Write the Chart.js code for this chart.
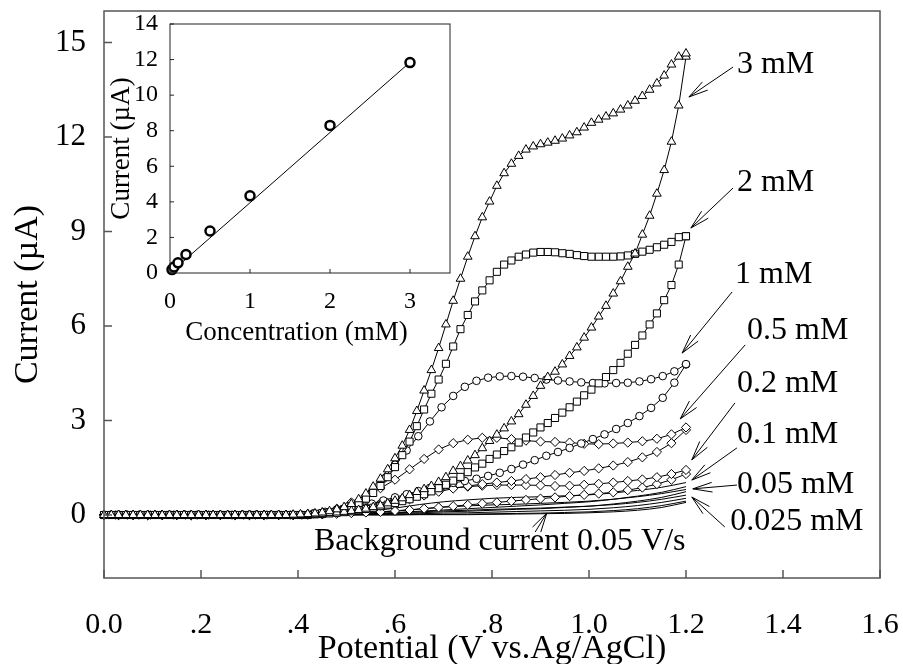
<!DOCTYPE html>
<html>
<head>
<meta charset="utf-8">
<script src="https://cdn.jsdelivr.net/npm/chart.js@4.4.1/dist/chart.umd.min.js"></script>
<style>
  html, body { margin: 0; padding: 0; background: #fff; }
  #wrap { position: relative; width: 903px; height: 664px; }
  #main { position: absolute; left: 0; top: 0; }
  #inset { position: absolute; left: 90px; top: 5px; }
</style>
</head>
<body>
<div id="wrap">
  <canvas id="main" width="903" height="664"></canvas>
  <canvas id="inset" width="380" height="345"></canvas>
</div>
<script>
const SERIF = '"Liberation Serif", "Times New Roman", serif';

// potentials (V) at which each group of curves is sampled
const potFine = [0, 0.015, 0.03, 0.045, 0.06, 0.075, 0.09, 0.105, 0.12, 0.135,
  0.15, 0.165, 0.18, 0.195, 0.21, 0.225, 0.24, 0.255, 0.27, 0.285,
  0.3, 0.315, 0.33, 0.345, 0.36, 0.375, 0.39, 0.405, 0.42, 0.435,
  0.45, 0.465, 0.48, 0.495, 0.51, 0.525, 0.54, 0.555, 0.57, 0.585,
  0.6, 0.615, 0.63, 0.645, 0.66, 0.675, 0.69, 0.705, 0.72, 0.735,
  0.75, 0.765, 0.78, 0.795, 0.81, 0.825, 0.84, 0.855, 0.87, 0.885,
  0.9, 0.915, 0.93, 0.945, 0.96, 0.975, 0.99, 1.005, 1.02, 1.035,
  1.05, 1.065, 1.08, 1.095, 1.11, 1.125, 1.14, 1.155, 1.17, 1.185,
  1.2];
const potCircle = [0, 0.024, 0.048, 0.072, 0.096, 0.12, 0.144, 0.168, 0.192, 0.216,
  0.24, 0.264, 0.288, 0.312, 0.336, 0.36, 0.384, 0.408, 0.432, 0.456,
  0.48, 0.504, 0.528, 0.552, 0.576, 0.6, 0.624, 0.648, 0.672, 0.696,
  0.72, 0.744, 0.768, 0.792, 0.816, 0.84, 0.864, 0.888, 0.912, 0.936,
  0.96, 0.984, 1.008, 1.032, 1.056, 1.08, 1.104, 1.128, 1.152, 1.176,
  1.2];
const potDiamond = [0, 0.03, 0.06, 0.09, 0.12, 0.15, 0.18, 0.21, 0.24, 0.27,
  0.3, 0.33, 0.36, 0.39, 0.42, 0.45, 0.48, 0.51, 0.54, 0.57,
  0.6, 0.63, 0.66, 0.69, 0.72, 0.75, 0.78, 0.81, 0.84, 0.87,
  0.9, 0.93, 0.96, 0.99, 1.02, 1.05, 1.08, 1.11, 1.14, 1.17,
  1.2];
const potLine = [0, 0.1, 0.2, 0.3, 0.4, 0.45, 0.5, 0.55, 0.6, 0.65, 0.7,
  0.75, 0.8, 0.85, 0.9, 0.95, 1.0, 1.05, 1.1, 1.15, 1.2];

// current (uA): upper branch / lower branch of each loop
const up3mM = [0, 0, 0, 0, 0, 0, 0, 0, 0, 0,
  0, 0, 0, 0, 0, 0, 0, 0, 0, 0,
  0, 0, 0, 0, 0, 0, 0.01, 0.02, 0.03, 0.05,
  0.08, 0.12, 0.18, 0.25, 0.35, 0.5, 0.68, 0.9, 1.15, 1.45,
  1.8, 2.2, 2.7, 3.3, 3.95, 4.6, 5.3, 6.05, 6.8, 7.5,
  8.2, 8.85, 9.45, 9.95, 10.45, 10.85, 11.15, 11.4, 11.6, 11.7,
  11.77, 11.82, 11.88, 11.95, 12.05, 12.15, 12.3, 12.45, 12.55, 12.65,
  12.75, 12.87, 13.0, 13.15, 13.3, 13.5, 13.7, 13.95, 14.3, 14.55,
  14.65];
const low3mM = [0, 0, 0, 0, 0, 0, 0, 0, 0, 0,
  0, 0, 0, 0, 0, 0, 0, 0, 0, 0,
  0, 0, 0, 0, 0, 0, 0, 0, 0, 0.02,
  0.04, 0.06, 0.08, 0.1, 0.13, 0.16, 0.2, 0.25, 0.3, 0.37,
  0.45, 0.53, 0.63, 0.73, 0.82, 0.92, 1.05, 1.2, 1.4, 1.55,
  1.73, 1.9, 2.12, 2.35, 2.55, 2.75, 2.97, 3.2, 3.5, 3.78,
  4.1, 4.38, 4.55, 4.78, 5.05, 5.32, 5.63, 5.95, 6.3, 6.64,
  7.03, 7.42, 7.88, 8.3, 8.9, 9.5, 10.2, 10.95, 11.85, 13.0,
  14.55];
const up2mM = [0, 0, 0, 0, 0, 0, 0, 0, 0, 0,
  0, 0, 0, 0, 0, 0, 0, 0, 0, 0,
  0, 0, 0, 0, 0, 0, 0, 0, 0, 0.04,
  0.06, 0.09, 0.13, 0.19, 0.27, 0.38, 0.52, 0.7, 0.92, 1.2,
  1.52, 1.9, 2.33, 2.82, 3.35, 3.85, 4.3, 4.8, 5.35, 5.9,
  6.35, 6.78, 7.13, 7.45, 7.72, 7.95, 8.08, 8.2, 8.27, 8.33,
  8.35, 8.35, 8.34, 8.31, 8.29, 8.25, 8.22, 8.2, 8.2, 8.2,
  8.2, 8.21, 8.24, 8.29, 8.36, 8.42, 8.5, 8.58, 8.67, 8.82,
  8.85];
const low2mM = [0, 0, 0, 0, 0, 0, 0, 0, 0, 0,
  0, 0, 0, 0, 0, 0, 0, 0, 0, 0,
  0, 0, 0, 0, 0, 0, 0, 0, 0, 0.02,
  0.03, 0.05, 0.07, 0.09, 0.12, 0.15, 0.19, 0.23, 0.28, 0.33,
  0.38, 0.44, 0.5, 0.58, 0.66, 0.75, 0.85, 0.96, 1.09, 1.21,
  1.36, 1.51, 1.63, 1.78, 1.92, 2.03, 2.15, 2.3, 2.46, 2.62,
  2.78, 2.92, 3.08, 3.25, 3.42, 3.6, 3.8, 3.98, 4.18, 4.38,
  4.6, 4.83, 5.12, 5.4, 5.7, 6.05, 6.4, 6.82, 7.3, 7.95,
  8.85];
const up1mM = [0, 0, 0, 0, 0, 0, 0, 0, 0, 0,
  0, 0, 0, 0, 0, 0, 0, 0, 0.05, 0.1,
  0.17, 0.28, 0.45, 0.72, 1.15, 1.6, 2.05, 2.5, 2.97, 3.42,
  3.78, 4.07, 4.26, 4.36, 4.4, 4.41, 4.39, 4.35, 4.3, 4.27,
  4.24, 4.21, 4.19, 4.18, 4.19, 4.2, 4.24, 4.31, 4.41, 4.56,
  4.79];
const low1mM = [0, 0, 0, 0, 0, 0, 0, 0, 0, 0,
  0, 0, 0, 0, 0, 0, 0, 0, 0.03, 0.07,
  0.12, 0.19, 0.27, 0.36, 0.46, 0.56, 0.66, 0.76, 0.86, 0.95,
  1.02, 1.08, 1.15, 1.24, 1.34, 1.46, 1.6, 1.74, 1.88, 2.0,
  2.13, 2.27, 2.41, 2.56, 2.73, 2.92, 3.14, 3.4, 3.72, 4.2,
  4.78];
const up05mM = [0, 0, 0, 0, 0, 0, 0, 0, 0, 0,
  0, 0, 0, 0, 0.03, 0.08, 0.2, 0.4, 0.62, 0.85,
  1.12, 1.45, 1.78, 2.08, 2.28, 2.39, 2.45, 2.45, 2.41, 2.36,
  2.33, 2.32, 2.3, 2.26, 2.25, 2.27, 2.3, 2.34, 2.42, 2.56,
  2.78];
const low05mM = [0, 0, 0, 0, 0, 0, 0, 0, 0, 0,
  0, 0, 0, 0, 0.02, 0.05, 0.1, 0.16, 0.22, 0.3,
  0.39, 0.5, 0.62, 0.74, 0.84, 0.92, 0.98, 1.03, 1.08, 1.14,
  1.2, 1.27, 1.34, 1.4, 1.48, 1.57, 1.68, 1.83, 2.0, 2.28,
  2.7];
const up02mM = [0, 0, 0, 0, 0, 0, 0, 0, 0, 0,
  0, 0, 0, 0, 0.02, 0.05, 0.1, 0.18, 0.28, 0.38,
  0.5, 0.62, 0.72, 0.8, 0.86, 0.9, 0.93, 0.95, 0.95, 0.95,
  0.94, 0.92, 0.93, 0.96, 0.99, 1.03, 1.08, 1.13, 1.2, 1.3,
  1.43];
const low02mM = [0, 0, 0, 0, 0, 0, 0, 0, 0, 0,
  0, 0, 0, 0, 0.01, 0.02, 0.04, 0.06, 0.08, 0.1,
  0.13, 0.16, 0.2, 0.24, 0.28, 0.32, 0.36, 0.4, 0.44, 0.48,
  0.52, 0.56, 0.6, 0.64, 0.68, 0.72, 0.79, 0.87, 0.98, 1.12,
  1.3];
const up01mM = [0, 0, 0, 0, 0.01, 0.02, 0.05, 0.12, 0.22, 0.33, 0.42,
  0.48, 0.53, 0.56, 0.58, 0.61, 0.64, 0.7, 0.78, 0.88, 1.03];
const low01mM = [0, 0, 0, 0, 0, 0.01, 0.02, 0.04, 0.08, 0.12, 0.16,
  0.2, 0.24, 0.28, 0.32, 0.37, 0.42, 0.5, 0.6, 0.72, 0.9];
const up005mM = [0, 0, 0, 0, 0, 0.01, 0.03, 0.07, 0.13, 0.19, 0.25,
  0.29, 0.32, 0.34, 0.37, 0.4, 0.44, 0.5, 0.58, 0.68, 0.81];
const low005mM = [0, 0, 0, 0, 0, 0, 0.01, 0.03, 0.05, 0.07, 0.1,
  0.12, 0.15, 0.18, 0.2, 0.24, 0.28, 0.35, 0.44, 0.56, 0.74];
const up0025mM = [0, 0, 0, 0, 0, 0, 0.02, 0.04, 0.07, 0.1, 0.13,
  0.15, 0.18, 0.2, 0.22, 0.25, 0.28, 0.33, 0.4, 0.5, 0.63];
const low0025mM = [0, 0, 0, 0, 0, 0, 0.01, 0.02, 0.03, 0.04, 0.06,
  0.07, 0.09, 0.11, 0.13, 0.15, 0.18, 0.23, 0.3, 0.4, 0.53];
const upBlank = [0, 0, 0, 0, 0, 0, 0, 0.01, 0.01, 0.02, 0.02,
  0.03, 0.04, 0.05, 0.06, 0.08, 0.1, 0.14, 0.2, 0.3, 0.44];
const lowBlank = [0, 0, 0, 0, 0, 0, 0, 0, 0, 0.01, 0.01,
  0.01, 0.02, 0.03, 0.04, 0.05, 0.07, 0.1, 0.15, 0.24, 0.4];

// inset: peak current vs concentration
const concentrations = [0.025, 0.05, 0.1, 0.2, 0.5, 1, 2, 3];
const peakCurrents = [0.19, 0.34, 0.57, 1.04, 2.36, 4.34, 8.3, 11.83];
const fitConc = [0.025, 3];
const fitCurrent = [0.1, 11.85];

const xTickValues = [0, 0.2, 0.4, 0.6, 0.8, 1.0, 1.2, 1.4, 1.6];
const yTickValues = [0, 3, 6, 9, 12, 15];
const insetXTicks = [0, 1, 2, 3];
const insetYTicks = [0, 2, 4, 6, 8, 10, 12, 14];

const curveLabels = ['3 mM', '2 mM', '1 mM', '0.5 mM', '0.2 mM', '0.1 mM', '0.05 mM', '0.025 mM'];
const blankLabel = 'Background current 0.05 V/s';

// where the labels sit, in axis units (V, uA): text start, arrow tail, arrow tip
const labelPlaces = [
  [1.305, 14.29, 1.297, 14.22, 1.206, 13.27],
  [1.305, 10.54, 1.297, 10.38, 1.21, 9.11],
  [1.301, 7.62, 1.295, 7.08, 1.192, 5.14],
  [1.326, 5.87, 1.322, 5.4, 1.188, 3.05],
  [1.305, 4.16, 1.301, 3.56, 1.212, 1.75],
  [1.305, 2.54, 1.305, 2.13, 1.212, 1.11],
  [1.305, 0.98, 1.305, 0.95, 1.214, 0.83],
  [1.291, -0.22, 1.28, -0.38, 1.212, 0.57]
];
const blankPlace = [0.816, -0.83, 0.889, -0.54, 0.913, 0.06];

function loop(pot, upper, lower) {
  const pts = [];
  for (let i = 0; i < pot.length; i++) pts.push({ x: pot[i], y: lower[i] });
  for (let i = pot.length - 1; i >= 0; i--) pts.push({ x: pot[i], y: upper[i] });
  return pts;
}
function branch(pot, vals) {
  return pot.map((p, i) => ({ x: p, y: vals[i] }));
}
function markerSet(data, style, r) {
  return {
    data: data, showLine: true, borderColor: '#000', borderWidth: 1, tension: 0,
    pointStyle: style, pointRadius: r, pointBackgroundColor: '#fff',
    pointBorderColor: '#000', pointBorderWidth: 1, clip: false
  };
}
function plainSet(data) {
  return {
    data: data, showLine: true, borderColor: '#000', borderWidth: 1,
    pointRadius: 0, cubicInterpolationMode: 'monotone', clip: false
  };
}

function arrow(ctx, x0, y0, x1, y1) {
  const ang = Math.atan2(y0 - y1, x0 - x1);
  const len = 20, spread = 14 * Math.PI / 180;
  ctx.beginPath();
  ctx.moveTo(x0, y0);
  ctx.lineTo(x1, y1);
  ctx.moveTo(x1 + len * Math.cos(ang - spread), y1 + len * Math.sin(ang - spread));
  ctx.lineTo(x1, y1);
  ctx.lineTo(x1 + len * Math.cos(ang + spread), y1 + len * Math.sin(ang + spread));
  ctx.stroke();
}

// keep the plot box where the figure has it, whatever the edge labels need
function noEdgePadding(s) {
  s.paddingLeft = 0; s.paddingRight = 0; s.paddingTop = 0; s.paddingBottom = 0;
}

const mainDecor = {
  id: 'mainDecor',
  afterDraw(chart) {
    const { ctx, chartArea: a, scales: { x, y } } = chart;
    ctx.save();
    ctx.strokeStyle = '#555';
    ctx.lineWidth = 1.5;
    ctx.strokeRect(a.left, a.top, a.right - a.left, a.bottom - a.top);
    ctx.beginPath();
    xTickValues.forEach(v => {
      const px = x.getPixelForValue(v);
      ctx.moveTo(px, a.bottom); ctx.lineTo(px, a.bottom - 8);
    });
    yTickValues.forEach(v => {
      const py = y.getPixelForValue(v);
      ctx.moveTo(a.left, py); ctx.lineTo(a.left + 8, py);
    });
    ctx.stroke();

    ctx.fillStyle = '#000';
    ctx.strokeStyle = '#000';
    ctx.lineWidth = 1;
    ctx.font = '32px ' + SERIF;
    ctx.textBaseline = 'middle';
    ctx.textAlign = 'left';
    curveLabels.forEach((t, i) => {
      const p = labelPlaces[i];
      ctx.fillText(t, x.getPixelForValue(p[0]), y.getPixelForValue(p[1]));
      arrow(ctx, x.getPixelForValue(p[2]), y.getPixelForValue(p[3]),
        x.getPixelForValue(p[4]), y.getPixelForValue(p[5]));
    });
    ctx.textAlign = 'center';
    ctx.fillText(blankLabel, x.getPixelForValue(blankPlace[0]), y.getPixelForValue(blankPlace[1]));
    arrow(ctx, x.getPixelForValue(blankPlace[2]), y.getPixelForValue(blankPlace[3]),
      x.getPixelForValue(blankPlace[4]), y.getPixelForValue(blankPlace[5]));
    ctx.restore();
  }
};

function fmtPotential(v) {
  if (v === 0) return '0.0';
  if (v < 1) return '.' + Math.round(v * 10);
  return v.toFixed(1);
}

new Chart(document.getElementById('main'), {
  type: 'scatter',
  data: {
    datasets: [
      markerSet(loop(potFine, up3mM, low3mM), 'triangle', 5),
      markerSet(loop(potFine, up2mM, low2mM), 'rect', 5),
      markerSet(loop(potCircle, up1mM, low1mM), 'circle', 3.8),
      markerSet(loop(potDiamond, up05mM, low05mM), 'rectRot', 4.6),
      markerSet(loop(potDiamond, up02mM, low02mM), 'rectRot', 4.6),
      plainSet(branch(potLine, up01mM)),
      plainSet(branch(potLine, low01mM)),
      plainSet(branch(potLine, up005mM)),
      plainSet(branch(potLine, low005mM)),
      plainSet(branch(potLine, up0025mM)),
      plainSet(branch(potLine, low0025mM)),
      plainSet(branch(potLine, upBlank)),
      plainSet(branch(potLine, lowBlank))
    ]
  },
  options: {
    responsive: false,
    animation: false,
    devicePixelRatio: 1,
    layout: { padding: { top: 11, right: 23, left: 0, bottom: 0 } },
    plugins: { legend: { display: false }, tooltip: { enabled: false } },
    scales: {
      x: {
        type: 'linear', min: 0, max: 1.6,
        afterBuildTicks: s => { s.ticks = xTickValues.map(v => ({ value: v })); },
        afterFit: s => { s.height = 86; noEdgePadding(s); },
        grid: { display: false, drawTicks: false },
        border: { display: false },
        ticks: {
          color: '#000', font: { family: SERIF, size: 30 }, padding: 29,
          maxRotation: 0, autoSkip: false, callback: v => fmtPotential(v)
        },
        title: {
          display: true, text: 'Potential (V vs.Ag/AgCl)', color: '#000',
          font: { family: SERIF, size: 34, lineHeight: 0.85 }, padding: { top: 0, bottom: 0 }
        }
      },
      y: {
        type: 'linear', min: -2, max: 16,
        afterBuildTicks: s => { s.ticks = yTickValues.map(v => ({ value: v })); },
        afterFit: s => { s.width = 104; noEdgePadding(s); },
        grid: { display: false, drawTicks: false },
        border: { display: false },
        ticks: { color: '#000', font: { family: SERIF, size: 31 }, padding: 18 },
        title: {
          display: true, text: 'Current (\u00b5A)', color: '#000',
          font: { family: SERIF, size: 34 }, padding: { top: 8, bottom: 0 }
        }
      }
    }
  },
  plugins: [mainDecor]
});

const insetDecor = {
  id: 'insetDecor',
  afterDraw(chart) {
    const { ctx, chartArea: a, scales: { x, y } } = chart;
    ctx.save();
    ctx.strokeStyle = '#222';
    ctx.lineWidth = 1;
    ctx.strokeRect(a.left, a.top, a.right - a.left, a.bottom - a.top);
    ctx.beginPath();
    insetXTicks.forEach(v => {
      const px = x.getPixelForValue(v);
      ctx.moveTo(px, a.bottom); ctx.lineTo(px, a.bottom - 4);
    });
    insetYTicks.forEach(v => {
      const py = y.getPixelForValue(v);
      ctx.moveTo(a.left, py); ctx.lineTo(a.left + 4, py);
    });
    ctx.stroke();
    ctx.restore();
  }
};

new Chart(document.getElementById('inset'), {
  type: 'scatter',
  data: {
    datasets: [
      {
        data: concentrations.map((c, i) => ({ x: c, y: peakCurrents[i] })),
        showLine: false, pointStyle: 'circle', pointRadius: 4.5,
        pointBackgroundColor: '#fff', pointBorderColor: '#000', pointBorderWidth: 2.5, clip: false
      },
      {
        data: fitConc.map((c, i) => ({ x: c, y: fitCurrent[i] })),
        showLine: true, borderColor: '#000', borderWidth: 1, pointRadius: 0, clip: false
      }
    ]
  },
  options: {
    responsive: false,
    animation: false,
    devicePixelRatio: 1,
    layout: { padding: { top: 19, right: 20, left: 0, bottom: 0 } },
    plugins: { legend: { display: false }, tooltip: { enabled: false } },
    scales: {
      x: {
        type: 'linear', min: 0, max: 3.5,
        afterBuildTicks: s => { s.ticks = insetXTicks.map(v => ({ value: v })); },
        afterFit: s => { s.height = 77; noEdgePadding(s); },
        grid: { display: false, drawTicks: false },
        border: { display: false },
        ticks: { color: '#000', font: { family: SERIF, size: 24 }, padding: 14, maxRotation: 0 },
        title: {
          display: true, text: 'Concentration (mM)\u2003', color: '#000',
          font: { family: SERIF, size: 27 }, padding: { top: 0, bottom: 1 }
        }
      },
      y: {
        type: 'linear', min: 0, max: 14,
        afterBuildTicks: s => { s.ticks = insetYTicks.map(v => ({ value: v })); },
        afterFit: s => { s.width = 80; noEdgePadding(s); },
        grid: { display: false, drawTicks: false },
        border: { display: false },
        ticks: { color: '#000', font: { family: SERIF, size: 24 }, padding: 12 },
        title: {
          display: true, text: 'Current (\u00b5A)', color: '#000',
          font: { family: SERIF, size: 27 }, padding: { top: 16, bottom: 0 }
        }
      }
    }
  },
  plugins: [insetDecor]
});
</script>
</body>
</html>
